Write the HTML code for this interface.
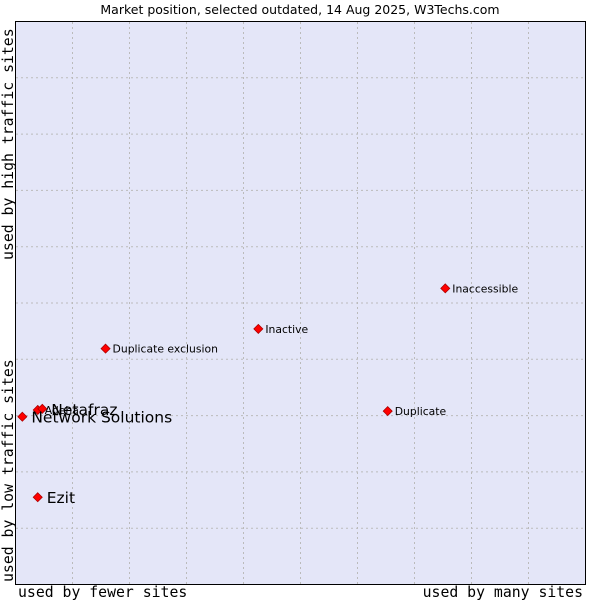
<!DOCTYPE html>
<html><head><meta charset="utf-8"><style>
body{margin:0;background:#fff;width:600px;height:600px;overflow:hidden;font-family:"DejaVu Sans","Liberation Sans",sans-serif}
</style></head><body>
<svg width="600" height="600" xmlns="http://www.w3.org/2000/svg">
<text x="300" y="14" font-size="12.5" text-anchor="middle" fill="#000">Market position, selected outdated, 14 Aug 2025, W3Techs.com</text>
<rect x="15.5" y="21.5" width="570" height="563" fill="#e4e6f8" stroke="#000"/>
<g id="grid"></g>
<g id="pts"></g>
<text x="18" y="597" font-family="DejaVu Sans Mono,Liberation Mono,monospace" font-size="14.8">used by fewer sites</text>
<text x="583" y="597" font-family="DejaVu Sans Mono,Liberation Mono,monospace" font-size="14.8" text-anchor="end">used by many sites</text>
<text transform="translate(13,582) rotate(-90)" font-family="DejaVu Sans Mono,Liberation Mono,monospace" font-size="14.8">used by low traffic sites</text>
<text transform="translate(13,260) rotate(-90)" font-family="DejaVu Sans Mono,Liberation Mono,monospace" font-size="14.8">used by high traffic sites</text>
</svg>
<script>
const names=["Adeha","Netafraz","Network Solutions","Ezit","Duplicate exclusion","Inactive","Inaccessible","Duplicate"];
const xs=[3.9,4.7,1.2,3.9,15.8,42.6,75.4,65.3];
const ys=[31.0,31.2,29.8,15.5,41.9,45.4,52.6,30.8];
const big=[false,true,true,true,false,false,false,false];
const NS="http://www.w3.org/2000/svg";
const X=v=>15.5+v*5.7, Y=v=>584.5-v*5.63;
const g=document.getElementById('grid');
for(let i=1;i<10;i++){
 const l=document.createElementNS(NS,'line');
 l.setAttribute('x1',X(i*10));l.setAttribute('x2',X(i*10));l.setAttribute('y1',22);l.setAttribute('y2',584);
 l.setAttribute('stroke','#bbb');l.setAttribute('stroke-dasharray','2,3');
 
 
 g.appendChild(l);
 const h=document.createElementNS(NS,'line');
 h.setAttribute('y1',Y(i*10));h.setAttribute('y2',Y(i*10));h.setAttribute('x1',16);h.setAttribute('x2',585);
 h.setAttribute('stroke','#bbb');h.setAttribute('stroke-dasharray','2,3');
 
 
 g.appendChild(h);
}
const p=document.getElementById('pts');
names.forEach((n,i)=>{
 const x=X(xs[i]),y=Y(ys[i]);
 const d=document.createElementNS(NS,'path');
 d.setAttribute('d',`M${x} ${y-4.5}L${x+4.5} ${y}L${x} ${y+4.5}L${x-4.5} ${y}Z`);
 d.setAttribute('fill','#f00');d.setAttribute('stroke','#a00');d.setAttribute('stroke-width','0.8');
 
 
 p.appendChild(d);
 const t=document.createElementNS(NS,'text');
 t.setAttribute('x',x+(big[i]?9:7));t.setAttribute('y',y+(big[i]?6:4));
 t.setAttribute('font-size',big[i]?15.5:10.8);
 t.textContent=n;
 
 
 p.appendChild(t);
});
</script>
</body></html>
